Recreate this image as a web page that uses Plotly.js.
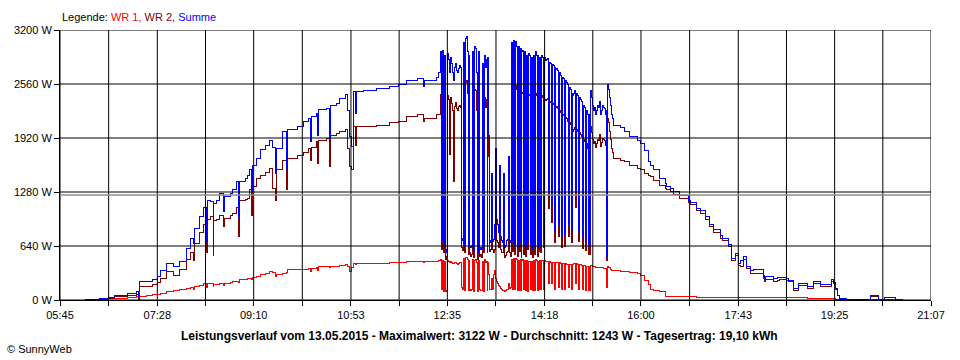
<!DOCTYPE html>
<html>
<head>
<meta charset="utf-8">
<script src="https://cdn.plot.ly/plotly-3.0.1.min.js"></script>
<style>html,body{margin:0;padding:0;background:#fff}#chart{width:960px;height:360px}
#chart path.js-line{shape-rendering:crispEdges}</style>
</head>
<body>
<div id="chart"></div>
<script>
// time in minutes after midnight
const times = [
371,387,396,403,416,426,428,429,437,443,448,451,458,465,472,479,483,486,487,493,
497,500,501,504,507,508,511,514,518,519,525,528,532,534,535,541,543,546,548,549,
553,557,562,567,570,573,574,580,581,585,586,596,603,608,610,611,617,618,619,627,
630,631,638,641,647,649,651,654,656,658,659,666,680,694,703,712,723,730,731,737,
744,746,
748,749,750,751,752,753,754,755,756,757,
758,759,760,761,762,763,764,765,766,767,
768,769,770,771,772,773,774,775,776,777,
778,779,780,781,782,783,784,785,786,787,
788,789,790,791,792,793,794,795,796,797,
798,799,800,801,802,803,804,805,806,807,
808,809,810,811,812,813,814,815,816,817,
818,819,820,821,822,823,824,825,826,827,
828,829,830,831,832,833,834,835,836,837,
838,839,840,841,842,843,844,845,846,847,
848,849,850,851,852,853,854,855,856,857,
858,859,860,861,862,863,864,865,866,867,
868,869,870,871,872,873,874,875,876,877,
878,879,880,881,882,883,884,885,886,887,
888,889,890,891,892,893,894,895,896,897,
898,899,900,901,902,903,904,905,906,907,
908,909,910,911,912,913,914,915,916,917,
918,919,920,921,922,923,924,925,926,927,
928,929,930,
931,938,943,948,956,959,964,968,970,973,980,986,987,991,994,1001,1010,1012,1019,1023,
1028,1033,1037,1044,1046,1053,1056,1060,1063,1065,1068,1072,1076,1079,1090,1091,1092,1100,1104,1107,
1114,1116,1121,1127,1130,1136,1143,1150,1158,1162,1164,1166,1168,1170,1178,1202,1203,1211,1218,1229,
1237];

const wr1 = [
3,6,15,20,30,40,35,45,55,65,71,80,99,110,126,140,150,130,158,170,
190,150,197,190,158,180,185,190,175,197,205,220,225,210,240,245,250,257,240,270,
280,308,320,336,330,280,300,316,316,330,356,360,363,375,340,375,385,350,395,398,
380,400,403,408,415,400,336,380,435,420,435,435,435,447,450,452,454,440,455,458,
462,465,
480,120,470,100,460,100,110,470,460,450,
455,450,440,435,430,440,445,430,420,430,
450,440,150,120,490,110,500,505,480,110,
470,120,110,120,480,100,470,480,450,100,
470,120,110,110,460,100,480,450,460,110,
450,300,120,130,250,120,300,350,250,220,
200,170,160,140,120,110,110,110,105,110,
120,130,200,140,150,480,130,490,120,490,
480,110,470,110,480,110,470,480,120,470,
110,470,100,460,460,120,460,110,470,110,
480,470,110,460,130,470,120,470,470,130,
470,460,460,460,200,460,450,200,450,450,
130,440,440,440,440,150,440,430,120,430,
430,130,430,420,420,150,420,420,130,420,
420,430,430,200,430,420,120,420,420,410,
120,410,410,110,400,400,110,400,110,410,
410,400,400,395,390,390,390,385,385,380,
380,380,375,375,370,370,150,400,390,380,
360,350,345,
344,340,335,328,310,296,237,180,126,115,99,47,40,40,40,38,36,36,35,35,
34,33,32,30,30,28,28,28,28,28,27,27,27,27,26,26,26,26,26,25,
25,24,24,24,24,23,23,22,22,22,20,8,5,2,1,1,1,1,1,1,
0];

const wr2 = [
4,8,20,40,50,60,5,160,165,178,210,260,336,296,356,480,560,474,672,800,
889,560,960,987,533,948,960,1007,869,968,1000,1027,1100,758,1185,1190,1205,1304,1000,1343,
1442,1481,1510,1560,1323,1185,1541,1620,1659,1304,1679,1710,1750,1798,1659,1810,1876,1620,1896,1920,
1580,1955,1975,1995,2015,1800,1580,1541,2054,1837,2054,2054,2074,2101,2121,2173,2193,2113,2150,2153,
2193,2200,
2430,600,2450,560,2400,480,520,2420,2380,1720,
2400,2330,2300,2250,1400,2290,2340,2270,2250,2290,
2310,2280,620,590,2540,560,2580,2600,2450,540,
2400,560,520,540,2450,500,2500,2480,2250,480,
2450,510,540,500,2300,560,2400,2280,2380,560,
2380,1700,580,600,1280,600,560,600,1550,700,
680,620,1400,600,560,560,1350,580,500,530,
560,580,1450,560,520,2550,580,2560,540,2540,
2500,520,2500,580,2480,500,2450,2460,540,2450,
520,2420,600,2440,2420,540,2400,500,2420,540,
2450,2420,520,2420,580,2400,560,2420,2400,620,
2380,2370,2380,2390,1080,2350,2340,920,2330,2320,
680,2310,2280,2290,2270,750,2250,2220,620,2200,
2190,640,2160,2150,2120,750,2100,2080,680,2030,
2000,2020,2050,1100,2020,2000,690,1980,1960,1940,
610,1900,1880,590,1850,1800,540,1800,540,2060,
1990,1900,1850,1880,1810,1860,1900,1890,1960,1820,
1870,1920,1900,1890,1830,1880,470,2150,2100,2000,
1900,1800,1750,
1679,1650,1640,1600,1560,1541,1500,1470,1462,1420,1363,1320,1310,1284,1250,1205,1150,1126,1060,1027,
960,869,800,731,710,632,470,530,410,395,480,370,316,320,257,220,245,217,230,240,
232,215,115,175,175,135,195,155,155,220,190,130,50,8,6,6,45,6,28,6,
0];

const summe = [
10,15,35,55,80,100,45,215,225,245,278,350,430,395,460,615,731,672,850,987,
1099,711,1185,1165,593,1140,1185,1264,1047,1225,1260,1304,1402,987,1400,1442,1470,1541,1300,1600,
1679,1778,1837,1896,1810,1501,1798,1955,1995,1541,2015,2054,2113,2153,1876,2170,2212,1955,2252,2265,
1916,2310,2331,2390,2430,2250,1936,1817,2469,2212,2475,2480,2509,2536,2560,2607,2627,2536,2600,2607,
2640,2700,
2940,700,2960,650,2900,560,600,2920,2850,2700,
2880,2800,2760,2700,2600,2750,2800,2720,2700,2740,
2780,2750,730,700,3050,650,3100,3122,2950,620,
2900,640,620,650,2950,580,3000,2980,2700,560,
2950,600,620,600,2800,640,2900,2750,2850,650,
2880,1950,680,700,1500,690,720,900,1800,950,
900,800,1600,750,700,680,1500,700,620,650,
700,720,1700,700,680,3050,700,3080,650,3060,
3000,620,3000,680,2980,600,2950,2960,650,2950,
620,2900,700,2920,2900,650,2880,600,2900,640,
2950,2900,620,2900,700,2880,660,2900,2880,750,
2870,2840,2850,2860,1280,2820,2800,1130,2790,2780,
810,2760,2730,2740,2720,900,2700,2660,735,2640,
2630,760,2600,2580,2550,900,2520,2500,810,2450,
2420,2450,2480,1300,2450,2420,810,2400,2380,2350,
735,2300,2280,700,2250,2200,652,2200,650,2480,
2400,2300,2250,2280,2200,2250,2300,2280,2350,2200,
2250,2300,2280,2270,2200,2250,520,2550,2500,2400,
2300,2200,2150,
2074,2040,2000,1936,1896,1857,1770,1640,1600,1541,1442,1380,1343,1320,1284,1240,1185,1160,1087,1060,
987,900,830,760,731,652,494,553,435,470,513,395,350,356,296,240,276,260,265,269,
257,237,138,197,200,158,217,178,178,245,210,138,59,12,8,8,51,8,32,8,
0];

const average = 1243;
const xTickLabels = ["05:45","07:28","09:10","10:53","12:35","14:18","16:00","17:43","19:25","21:07"];
const yTickVals = [0, 640, 1280, 1920, 2560, 3200];
const yTickLabels = ["0 W","640 W","1280 W","1920 W","2560 W","3200 W"];
const titleText = "Leistungsverlauf vom 13.05.2015 - Maximalwert: 3122 W - Durchschnitt: 1243 W - Tagesertrag: 19,10 kWh";

function toMin(s){ const p = s.split(":"); return (+p[0])*60 + (+p[1]); }
const labelMins = xTickLabels.map(toMin);
const xTickVals = [], xTickText = [];
labelMins.forEach((m, i) => {
  xTickVals.push(m); xTickText.push(xTickLabels[i]);
  if (i < labelMins.length - 1) { xTickVals.push((m + labelMins[i+1]) / 2); xTickText.push(""); }
});

const FONT = "Liberation Sans, Arial, sans-serif";
const shapes = [];
xTickVals.forEach(v => shapes.push({type:"line", xref:"x", yref:"paper", x0:v, x1:v, y0:0, y1:1, layer:"above", line:{color:"#000", width:1}}));
yTickVals.forEach(v => shapes.push({type:"line", xref:"paper", yref:"y", x0:0, x1:1, y0:v, y1:v, layer:"above", line:{color:"#000", width:1}}));
shapes.push({type:"line", xref:"paper", yref:"y", x0:0, x1:1, y0:average, y1:average, layer:"above", line:{color:"#8c8c8c", width:1.5}});

const mk = (y, color, name) => ({x: times, y: y, type: "scatter", mode: "lines", name: name,
  line: {color: color, width: 1, shape: "hv"}, hoverinfo: "skip"});

const data = [mk(wr1, "#ff0000", "WR 1"), mk(wr2, "#800000", "WR 2"), mk(summe, "#0000ff", "Summe")];

const layout = {
  width: 960, height: 360,
  margin: {l: 60, r: 29, t: 30, b: 60, pad: 0},
  paper_bgcolor: "#fff", plot_bgcolor: "#fff",
  showlegend: false,
  font: {family: FONT, size: 11, color: "#000"},
  xaxis: {range: [toMin("05:45"), toMin("21:07")], tickmode: "array", tickvals: xTickVals, ticktext: xTickText,
    showgrid: false, zeroline: false, showline: true, linecolor: "#000", linewidth: 1,
    ticks: "outside", ticklen: 5, tickcolor: "#000", tickwidth: 1, tickfont: {family: FONT, size: 11, color: "#000"}},
  yaxis: {range: [0, 3200], tickmode: "array", tickvals: yTickVals, ticktext: yTickLabels,
    showgrid: false, zeroline: false, showline: true, linecolor: "#000", linewidth: 1,
    ticks: "outside", ticklen: 5, tickcolor: "#000", tickwidth: 1, tickfont: {family: FONT, size: 11, color: "#000"}},
  shapes: shapes,
  annotations: [
    {xref: "paper", yref: "paper", x: 0.0, y: 1 + 13/270, xanchor: "left", yanchor: "middle", showarrow: false,
     text: 'Legende: <span style="color:#ff0000">WR 1,</span> <span style="color:#800000">WR 2,</span> <span style="color:#0000ff">Summe</span>',
     font: {family: FONT, size: 11, color: "#000"}},
    {xref: "paper", yref: "paper", x: 419/871, y: -36/270, xanchor: "center", yanchor: "middle", showarrow: false,
     text: "<b>" + titleText + "</b>", font: {family: FONT, size: 12, color: "#000"}},
    {xref: "paper", yref: "paper", x: -55/871, y: -49/270, xanchor: "left", yanchor: "middle", showarrow: false,
     text: "© SunnyWeb", font: {family: FONT, size: 11, color: "#000"}}
  ]
};

Plotly.newPlot("chart", data, layout, {staticPlot: true, displayModeBar: false});
</script>
</body>
</html>
